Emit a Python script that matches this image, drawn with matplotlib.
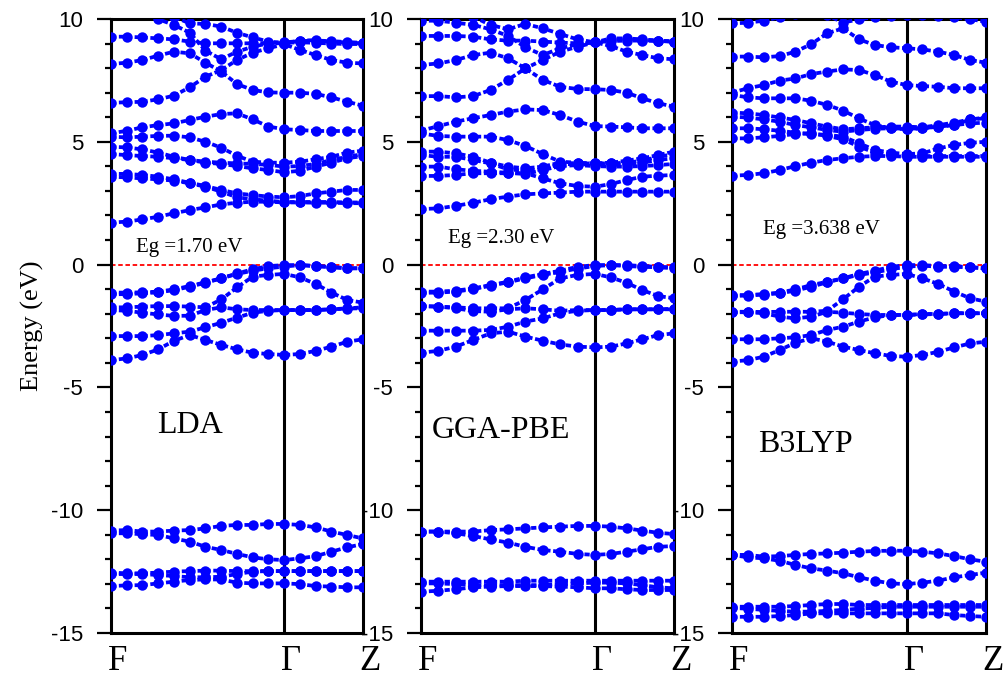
import numpy as np
import matplotlib
matplotlib.use('Agg')
import matplotlib.pyplot as plt
from matplotlib.ticker import MultipleLocator
from matplotlib.transforms import ScaledTranslation

plt.rcParams['axes.unicode_minus'] = False

# ---------------- band energies (eV) ----------------
# LDA: 12 k-points F->Gamma, 5 more Gamma->Z
lda_cond = [
    [1.71, 1.75, 1.84, 1.95, 2.09, 2.22, 2.33, 2.45, 2.52, 2.56, 2.56, 2.53, 2.53, 2.52, 2.52, 2.50, 2.50],
    [3.70, 3.69, 3.65, 3.58, 3.47, 3.33, 3.20, 3.04, 2.90, 2.83, 2.77, 2.74, 2.79, 2.90, 2.97, 3.04, 3.04],
    [3.58, 3.55, 3.51, 3.47, 3.42, 3.31, 3.17, 2.97, 2.74, 2.66, 2.60, 2.55, 2.55, 2.55, 2.55, 2.53, 2.53],
    [4.50, 4.46, 4.42, 4.39, 4.33, 4.26, 4.15, 4.10, 4.01, 3.92, 3.85, 3.76, 3.82, 3.99, 4.15, 4.33, 4.42],
    [4.80, 4.77, 4.69, 4.56, 4.39, 4.26, 4.19, 4.15, 4.12, 4.10, 4.06, 3.99, 4.01, 4.10, 4.26, 4.39, 4.50],
    [5.21, 5.18, 5.21, 5.24, 5.25, 5.18, 5.00, 4.76, 4.43, 4.19, 4.15, 4.15, 4.19, 4.29, 4.39, 4.56, 4.64],
    [5.34, 5.45, 5.59, 5.68, 5.75, 5.89, 6.02, 6.13, 6.16, 5.91, 5.62, 5.51, 5.48, 5.44, 5.44, 5.44, 5.44],
    [6.59, 6.61, 6.63, 6.73, 6.88, 7.22, 7.65, 7.92, 8.33, 8.63, 8.81, 8.97, 8.74, 8.53, 8.33, 8.22, 8.19],
    [8.17, 8.22, 8.33, 8.51, 8.67, 8.60, 8.22, 7.86, 7.35, 7.11, 7.01, 7.00, 7.00, 6.95, 6.81, 6.63, 6.47],
    [9.28, 9.28, 9.25, 9.21, 9.17, 9.08, 9.01, 9.01, 9.01, 9.01, 9.01, 9.01, 9.12, 9.14, 9.08, 9.04, 9.01],
    [10.91, 10.77, 10.50, 9.99, 9.76, 9.44, 8.71, 8.36, 8.67, 8.87, 9.01, 9.05, 9.10, 9.12, 9.10, 9.06, 9.03],
    [11.18, 11.05, 10.77, 10.43, 10.09, 9.82, 9.80, 9.69, 9.44, 9.25, 9.08, 9.03, 9.05, 9.03, 9.00, 8.98, 8.98],
]
lda_val = [
    [-1.14, -1.14, -1.13, -1.10, -1.01, -0.87, -0.72, -0.56, -0.36, -0.19, -0.06, -0.02, -0.02, -0.06, -0.09, -0.15, -0.15],
    [-1.21, -1.20, -1.17, -1.13, -1.04, -0.90, -0.74, -0.56, -0.38, -0.25, -0.15, -0.08, -0.02, -0.06, -0.11, -0.15, -0.15],
    [-1.74, -1.74, -1.71, -1.69, -1.69, -1.71, -1.74, -1.42, -0.93, -0.49, -0.42, -0.38, -0.52, -0.79, -1.14, -1.44, -1.55],
    [-1.85, -1.88, -1.96, -2.03, -2.09, -2.08, -1.85, -1.74, -1.82, -1.85, -1.85, -1.85, -1.85, -1.85, -1.82, -1.78, -1.74],
    [-2.91, -2.91, -2.91, -2.87, -2.80, -2.73, -2.55, -2.37, -2.16, -1.96, -1.88, -1.85, -1.85, -1.85, -1.82, -1.79, -1.78],
    [-3.89, -3.82, -3.68, -3.45, -3.10, -2.87, -3.07, -3.27, -3.45, -3.59, -3.64, -3.68, -3.64, -3.51, -3.34, -3.14, -3.04],
]
lda_low = [
    [-10.83, -10.81, -10.87, -10.87, -10.83, -10.81, -10.74, -10.64, -10.60, -10.60, -10.56, -10.56, -10.60, -10.70, -10.87, -11.01, -11.15],
    [-10.94, -10.94, -10.98, -11.01, -11.15, -11.28, -11.49, -11.62, -11.78, -11.92, -12.00, -12.03, -11.96, -11.87, -11.69, -11.51, -11.38],
    [-12.54, -12.57, -12.57, -12.54, -12.50, -12.48, -12.46, -12.46, -12.48, -12.48, -12.48, -12.48, -12.48, -12.48, -12.48, -12.48, -12.48],
    [-12.60, -12.60, -12.60, -12.64, -12.68, -12.73, -12.73, -12.71, -12.60, -12.50, -12.48, -12.48, -12.48, -12.48, -12.48, -12.48, -12.48],
    [-13.09, -13.06, -13.05, -12.98, -12.91, -12.84, -12.82, -12.82, -12.95, -12.98, -12.98, -12.98, -13.01, -13.09, -13.11, -13.14, -13.14],
]

# GGA-PBE: 11 k-points F->Gamma, 5 more Gamma->Z
gga_cond = [
    [2.26, 2.29, 2.39, 2.52, 2.66, 2.77, 2.86, 2.90, 2.93, 2.97, 2.97, 2.97, 2.97, 2.97, 2.97, 2.97],
    [3.61, 3.61, 3.65, 3.72, 3.72, 3.72, 3.72, 3.51, 3.31, 3.20, 3.17, 3.28, 3.44, 3.58, 3.62, 3.65],
    [3.99, 3.99, 3.88, 3.82, 3.78, 3.74, 3.69, 3.85, 4.01, 4.05, 4.01, 3.99, 3.99, 4.01, 4.05, 4.10],
    [4.46, 4.39, 4.39, 4.26, 4.12, 3.88, 3.82, 3.88, 4.10, 4.08, 4.08, 4.05, 4.10, 4.15, 4.26, 4.33],
    [4.60, 4.60, 4.53, 4.39, 4.15, 3.99, 3.92, 3.99, 4.15, 4.12, 4.12, 4.12, 4.15, 4.23, 4.39, 4.50],
    [5.34, 5.24, 5.21, 5.21, 5.21, 5.07, 4.83, 4.50, 4.19, 4.15, 4.12, 4.15, 4.23, 4.33, 4.46, 4.60],
    [5.45, 5.64, 5.82, 5.96, 6.09, 6.23, 6.32, 6.29, 6.09, 5.82, 5.64, 5.62, 5.59, 5.55, 5.55, 5.55],
    [6.86, 6.86, 6.81, 6.86, 7.11, 7.52, 7.99, 8.33, 8.67, 8.87, 9.05, 8.90, 8.67, 8.53, 8.40, 8.36],
    [8.13, 8.19, 8.33, 8.53, 8.63, 8.40, 7.99, 7.52, 7.24, 7.15, 7.14, 7.11, 7.00, 6.77, 6.57, 6.43],
    [9.31, 9.31, 9.31, 9.28, 9.17, 9.12, 9.12, 9.08, 9.04, 9.01, 9.05, 9.21, 9.21, 9.17, 9.12, 9.08],
    [9.93, 9.93, 9.85, 9.76, 9.58, 9.31, 8.85, 8.53, 8.81, 8.97, 9.05, 9.15, 9.17, 9.15, 9.12, 9.08],
    [10.77, 10.64, 10.37, 10.09, 9.76, 9.58, 9.80, 9.62, 9.39, 9.17, 9.05, 9.10, 9.12, 9.12, 9.10, 9.08],
]
gga_val = [
    [-1.10, -1.10, -1.06, -0.97, -0.83, -0.70, -0.52, -0.38, -0.25, -0.09, -0.02, -0.02, -0.02, -0.06, -0.09, -0.11],
    [-1.15, -1.14, -1.10, -1.00, -0.86, -0.72, -0.56, -0.42, -0.30, -0.16, -0.06, -0.02, -0.06, -0.09, -0.11, -0.15],
    [-1.69, -1.71, -1.74, -1.78, -1.78, -1.78, -1.44, -1.01, -0.56, -0.42, -0.38, -0.52, -0.74, -1.04, -1.28, -1.37],
    [-1.69, -1.71, -1.78, -1.89, -1.92, -1.82, -1.78, -1.82, -1.88, -1.85, -1.85, -1.85, -1.82, -1.82, -1.82, -1.82],
    [-2.69, -2.69, -2.69, -2.69, -2.66, -2.53, -2.32, -2.19, -1.98, -1.88, -1.85, -1.85, -1.82, -1.82, -1.82, -1.80],
    [-3.59, -3.51, -3.34, -3.07, -2.80, -2.73, -2.93, -3.10, -3.25, -3.34, -3.37, -3.34, -3.21, -3.04, -2.87, -2.80],
]
gga_low = [
    [-10.87, -10.87, -10.87, -10.87, -10.81, -10.78, -10.74, -10.70, -10.67, -10.64, -10.64, -10.67, -10.74, -10.83, -10.92, -10.97],
    [-10.87, -10.87, -10.94, -11.05, -11.19, -11.32, -11.49, -11.62, -11.69, -11.78, -11.82, -11.78, -11.69, -11.59, -11.49, -11.46],
    [-12.91, -12.91, -12.91, -12.91, -12.91, -12.91, -12.87, -12.87, -12.87, -12.87, -12.87, -12.87, -12.87, -12.87, -12.87, -12.87],
    [-12.98, -12.98, -13.01, -13.05, -13.05, -13.05, -13.05, -13.05, -13.01, -12.98, -12.95, -12.95, -12.98, -13.05, -13.14, -13.18],
    [-13.32, -13.28, -13.22, -13.14, -13.11, -13.09, -13.09, -13.09, -13.11, -13.14, -13.18, -13.18, -13.22, -13.25, -13.25, -13.25],
]

# B3LYP: 12 k-points F->Gamma, 5 more Gamma->Z
b3_cond = [
    [3.62, 3.65, 3.72, 3.85, 4.01, 4.15, 4.26, 4.33, 4.39, 4.42, 4.42, 4.39, 4.39, 4.39, 4.39, 4.39, 4.39],
    [5.14, 5.14, 5.18, 5.24, 5.32, 5.34, 5.24, 5.10, 4.80, 4.56, 4.46, 4.42, 4.42, 4.42, 4.42, 4.42, 4.42],
    [5.55, 5.55, 5.51, 5.45, 5.37, 5.32, 5.28, 5.21, 4.94, 4.67, 4.56, 4.50, 4.53, 4.73, 4.87, 4.96, 5.00],
    [6.02, 5.99, 5.91, 5.82, 5.68, 5.59, 5.48, 5.41, 5.48, 5.53, 5.55, 5.53, 5.55, 5.62, 5.68, 5.75, 5.78],
    [6.19, 6.16, 6.09, 5.99, 5.89, 5.75, 5.62, 5.51, 5.55, 5.59, 5.62, 5.62, 5.59, 5.68, 5.78, 5.91, 5.99],
    [6.91, 6.81, 6.77, 6.77, 6.77, 6.67, 6.50, 6.27, 5.95, 5.68, 5.55, 5.51, 5.55, 5.62, 5.68, 5.91, 5.96],
    [7.00, 7.18, 7.31, 7.49, 7.58, 7.76, 7.86, 7.95, 7.92, 7.72, 7.45, 7.31, 7.27, 7.24, 7.18, 7.18, 7.18],
    [8.47, 8.47, 8.44, 8.49, 8.67, 8.98, 9.42, 9.62, 9.17, 8.94, 8.85, 8.81, 8.76, 8.67, 8.53, 8.33, 8.22],
    [9.82, 9.85, 9.93, 10.07, 10.20, 10.26, 10.16, 9.85, 9.99, 10.07, 10.12, 10.16, 10.16, 10.12, 10.07, 9.99, 9.89],
]
b3_val = [
    [-1.24, -1.24, -1.20, -1.14, -1.01, -0.83, -0.70, -0.56, -0.38, -0.25, -0.09, -0.02, -0.02, -0.06, -0.06, -0.11, -0.15],
    [-1.28, -1.26, -1.22, -1.17, -1.06, -0.90, -0.72, -0.56, -0.42, -0.32, -0.19, -0.09, -0.04, -0.09, -0.09, -0.11, -0.15],
    [-1.92, -1.92, -1.93, -1.92, -1.92, -1.92, -1.88, -1.41, -0.90, -0.49, -0.42, -0.38, -0.56, -0.79, -1.10, -1.37, -1.51],
    [-1.94, -1.94, -1.98, -2.12, -2.19, -2.12, -1.92, -1.96, -2.01, -2.05, -2.05, -2.05, -2.01, -2.01, -1.98, -1.98, -1.98],
    [-3.04, -3.04, -3.04, -3.00, -2.96, -2.87, -2.66, -2.53, -2.32, -2.15, -2.05, -2.05, -2.03, -2.01, -1.98, -1.98, -1.98],
    [-3.95, -3.89, -3.75, -3.48, -3.18, -3.00, -3.14, -3.34, -3.48, -3.61, -3.72, -3.75, -3.68, -3.55, -3.37, -3.21, -3.14],
]
b3_low = [
    [-11.82, -11.82, -11.89, -11.87, -11.82, -11.78, -11.76, -11.73, -11.69, -11.66, -11.65, -11.65, -11.69, -11.76, -11.87, -12.00, -12.10],
    [-11.82, -11.92, -11.96, -12.06, -12.23, -12.37, -12.46, -12.57, -12.73, -12.87, -12.98, -13.01, -12.95, -12.87, -12.73, -12.64, -12.54],
    [-13.93, -13.93, -13.93, -13.93, -13.90, -13.86, -13.82, -13.82, -13.86, -13.86, -13.86, -13.86, -13.86, -13.86, -13.86, -13.86, -13.86],
    [-13.98, -14.01, -14.06, -14.10, -14.13, -14.13, -14.10, -14.06, -14.01, -13.98, -13.93, -13.93, -13.93, -13.93, -13.93, -13.93, -13.93],
    [-14.34, -14.34, -14.34, -14.31, -14.27, -14.20, -14.20, -14.20, -14.20, -14.20, -14.20, -14.20, -14.20, -14.20, -14.27, -14.31, -14.34],
]

methods = ['LDA', 'GGA-PBE', 'B3LYP']
gaps = ['Eg =1.70 eV', 'Eg =2.30 eV', 'Eg =3.638 eV']
kpt_labels = ['F', '\u0393', 'Z']

SERIF = 'Liberation Serif'
SANS = 'Liberation Sans'
BLUE = '#0000ff'


def kpath(n_pts):
    # n_pts = total points; 5 steps after Gamma, the rest spread over F-Gamma
    n_fg = n_pts - 5
    return np.concatenate([np.linspace(0, 11, n_fg), 11 + np.arange(1, 6)])


def draw_panel(ax, bands, name, gap, name_xy, gap_xy):
    k = kpath(len(bands[0]))
    ax.axhline(0, color='#ff0000', lw=1.3, ls=(0, (2.5, 1.5)), zorder=1)
    ax.axvline(11, color='black', lw=2.2, zorder=1)
    for e in bands:
        ax.plot(k, e, color=BLUE, lw=2.7, ls=(0, (1.4, 0.7)),
                marker='o', ms=7.5, mec=BLUE, mew=0, zorder=3)
    ax.set_xlim(0, 16)
    ax.set_ylim(-15, 10)
    ax.set_yticks([-15, -10, -5, 0, 5, 10])
    ax.yaxis.set_minor_locator(MultipleLocator(1))
    ax.tick_params(axis='y', which='major', direction='out', length=10,
                   width=1.6, labelsize=16, pad=10)
    ax.tick_params(axis='y', which='minor', direction='out', length=4.5, width=1.6)
    for lab in ax.get_yticklabels():
        lab.set_family(SANS)
    ax.set_xticks([0, 11, 16])
    ax.set_xticklabels(kpt_labels, fontsize=25, family=SERIF)
    ax.tick_params(axis='x', length=0, pad=9)
    for lab in ax.get_xticklabels():
        lab.set_transform(lab.get_transform() + ScaledTranslation(0.07, 0, ax.figure.dpi_scale_trans))
    for sp in ax.spines.values():
        sp.set_linewidth(2.2)
    ax.text(name_xy[0], name_xy[1], name, fontsize=23, family=SERIF, ha='left', va='baseline')
    ax.text(gap_xy[0], gap_xy[1], gap, fontsize=15, family=SERIF, ha='left', va='baseline')


fig = plt.figure(figsize=(10.04, 6.77), dpi=100)
ax1 = fig.add_axes([111 / 1004, 44 / 677, 252 / 1004, 614 / 677])
ax2 = fig.add_axes([421 / 1004, 44 / 677, 253 / 1004, 614 / 677])
ax3 = fig.add_axes([732 / 1004, 44 / 677, 254 / 1004, 614 / 677])

draw_panel(ax1, lda_cond + lda_val + lda_low, methods[0], gaps[0], (2.92, -6.86), (1.59, 0.53))
draw_panel(ax2, gga_cond + gga_val + gga_low, methods[1], gaps[1], (0.70, -7.08), (1.71, 0.88))
draw_panel(ax3, b3_cond + b3_val + b3_low, methods[2], gaps[2], (1.64, -7.65), (1.95, 1.25))

ax1.set_ylabel('Energy (eV)', fontsize=19, family=SERIF, labelpad=5)

fig.savefig('out.png', dpi=100)
